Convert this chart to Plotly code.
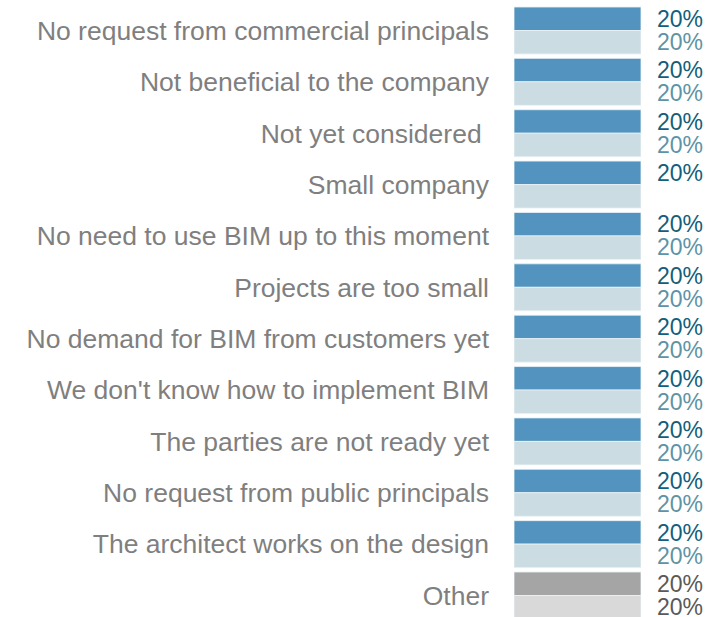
import plotly.graph_objects as go

categorias = [
    "No request from commercial principals",
    "Not beneficial to the company",
    "Not yet considered ",
    "Small company",
    "No need to use BIM up to this moment",
    "Projects are too small",
    "No demand for BIM from customers yet",
    "We don't know how to implement BIM",
    "The parties are not ready yet",
    "No request from public principals",
    "The architect works on the design",
    "Other",
]
valores_serie1 = [20, 20, 20, 20, 20, 20, 20, 20, 20, 20, 20, 20]
valores_serie2 = [20, 20, 20, 20, 20, 20, 20, 20, 20, 20, 20, 20]
textos_serie1 = ["20%"] * 12
textos_serie2 = ["20%", "20%", "20%", "", "20%", "20%", "20%", "20%", "20%", "20%", "20%", "20%"]

azul = "#5294bf"
azul_claro = "#cbdce3"
gris = "#a5a5a5"
gris_claro = "#d9d9d9"

colores1 = [azul] * 11 + [gris]
colores2 = [azul_claro] * 11 + [gris_claro]
color_txt1 = ["#135e7b"] * 11 + ["#595959"]
color_txt2 = ["#5e93a6"] * 11 + ["#595959"]

fig = go.Figure()
fig.add_trace(go.Bar(
    y=categorias, x=valores_serie1, orientation="h",
    marker=dict(color=colores1, line=dict(color="rgba(235,242,246,0.8)", width=1)),
    hoverinfo="skip",
))
fig.add_trace(go.Bar(
    y=categorias, x=valores_serie2, orientation="h",
    marker=dict(color=colores2, line=dict(color="rgba(235,242,246,0.8)", width=1)),
    hoverinfo="skip",
))

anotaciones = []
for i, cat in enumerate(categorias):
    if textos_serie1[i]:
        anotaciones.append(dict(x=valores_serie1[i], y=cat, xref="x", yref="y",
                                text=textos_serie1[i], showarrow=False,
                                xanchor="left", xshift=14, yshift=11.5,
                                font=dict(size=23, color=color_txt1[i])))
    if textos_serie2[i]:
        anotaciones.append(dict(x=valores_serie2[i], y=cat, xref="x", yref="y",
                                text=textos_serie2[i], showarrow=False,
                                xanchor="left", xshift=14, yshift=-11.5,
                                font=dict(size=23, color=color_txt2[i])))

# la ultima fila queda un poco recortada por abajo, como en el original
fig.update_layout(
    width=716, height=622,
    margin=dict(l=514, r=75, t=4, b=0),
    barmode="group",
    bargap=0.085,
    bargroupgap=0,
    showlegend=False,
    plot_bgcolor="white",
    paper_bgcolor="white",
    font=dict(family="Liberation Sans, Arial, sans-serif"),
    annotations=anotaciones,
)
fig.update_xaxes(range=[0, 20], visible=False)
fig.update_yaxes(
    autorange="reversed",
    showgrid=False, zeroline=False, showline=False,
    ticklabelstandoff=24,
    tickfont=dict(size=26.5, color="#7f7f7f"),
)

# sin margen del body para que la figura quede en (0, 0)
fig.write_html(
    "out.html",
    config={"displayModeBar": False},
    post_script="document.body.style.margin='0';document.body.style.overflow='hidden';",
)
